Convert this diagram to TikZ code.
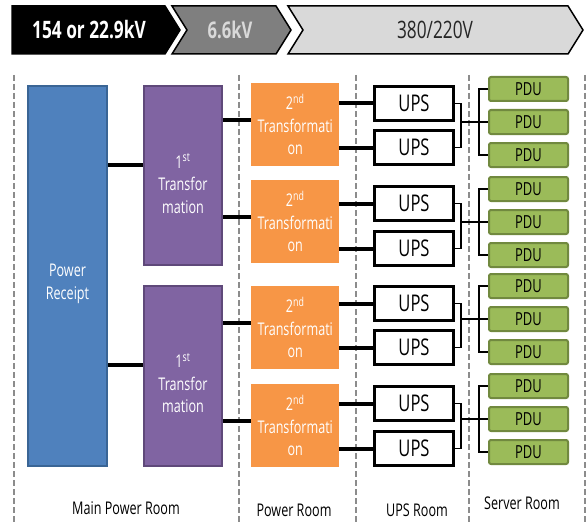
\documentclass[tikz,border=0pt]{standalone}
\usepackage{fontspec}
\setmainfont{Open Sans}[FakeStretch=0.72]
\definecolor{cBlue}{HTML}{4F81BD}
\definecolor{cBlueD}{HTML}{3A6595}
\definecolor{cPurple}{HTML}{8064A2}
\definecolor{cPurpleD}{HTML}{5F497A}
\definecolor{cOrange}{HTML}{F79646}
\definecolor{cGreen}{HTML}{9BBB59}
\definecolor{cGreenD}{HTML}{71893F}
\definecolor{cDash}{HTML}{8C8C8C}
\definecolor{cMid}{HTML}{7F7F7F}
\definecolor{cLight}{HTML}{D9D9D9}
\begin{document}
\begin{tikzpicture}[x=1pt,y=-1pt,
  box/.style={rectangle, inner sep=0pt, anchor=north west},
  pwrbox/.style={box, fill=cBlue, draw=cBlueD, line width=2pt, minimum width=79pt, minimum height=380pt},
  trbox/.style={box, fill=cPurple, draw=cPurpleD, line width=2pt, minimum width=78pt},
  orbox/.style={box, fill=cOrange, minimum width=88pt, minimum height=83pt},
  upsbox/.style={box, fill=white, draw=black, line width=3pt, minimum width=79pt, minimum height=34pt, font=\fontsize{23}{26}\selectfont},
  pdubox/.style={box, fill=cGreen, draw=cGreenD, line width=2pt, rounded corners=2pt, minimum width=79pt, minimum height=24pt, font=\fontsize{18}{20}\selectfont},
  wtext/.style={text=white, align=center, inner sep=0pt, font=\fontsize{17.5}{22.5}\selectfont},
  roomlabel/.style={inner sep=0pt, font=\fontsize{17.5}{20}\selectfont},
  bantext/.style={inner sep=0pt, font=\fontsize{22}{24}\selectfont},
  fat/.style={line width=4pt},
  thinline/.style={line width=1.2pt},
  roomsep/.style={draw=cDash, line width=1.8pt, dash pattern=on 6pt off 3pt},
  chev/.style={draw=black, line width=1.5pt, line join=miter}
]
\useasboundingbox (0,0) rectangle (588,524);

% banner
\draw[chev, fill=black] (12,6) -- (165,6) -- (180,30) -- (165,54) -- (12,54) -- cycle;
\draw[chev, fill=cMid] (172,6) -- (276,6) -- (291,30) -- (276,54) -- (172,54) -- (187,30) -- cycle;
\draw[chev, fill=cLight] (288,6) -- (568,6) -- (583,30) -- (568,54) -- (288,54) -- (303,30) -- cycle;
\node[bantext, text=white, font=\fontsize{24}{26}\selectfont\bfseries] (tA) at (89,30) {154 or 22.9kV};
\node[bantext, text=cLight, font=\fontsize{23}{26}\selectfont\bfseries] (tB) at (230,30) {6.6kV};
\node[bantext, text=black!85, font=\fontsize{24}{26}\selectfont] (tC) at (435,30) {380/220V};

% room separators
\foreach \x in {14,239,356,469,585}
  \draw[roomsep] (\x,75) -- (\x,524);

% power receipt
\node[pwrbox] (pr) at (27,85) {};
\node[wtext] (prt) at ([yshift=-8pt]pr.center) {Power\\Receipt};

% first transformations
\node[trbox, minimum height=179pt] (p1) at (143,85) {};
\node[trbox, minimum height=180pt] (p2) at (143,285) {};
\node[wtext] (p1t) at ([yshift=-8pt]p1.center) {1\textsuperscript{st}\\Transfor\\mation};
\node[wtext] (p2t) at ([yshift=-7pt]p2.center) {1\textsuperscript{st}\\Transfor\\mation};
\draw[fat] ([yshift=11pt]p1.west -| pr.east) -- ([yshift=11pt]p1.west);
\draw[fat] ([yshift=11pt]p2.west -| pr.east) -- ([yshift=11pt]p2.west);

% groups
\foreach \g/\ot/\ua/\ub/\pa/\pp in {1/83/85/129/76/1, 2/180/185/230/176/1, 3/286/285/329/273/2, 4/384/385/430/373/2}{
  \node[orbox] (o\g) at (251,\ot) {};
  \node[wtext] (ot\g) at (o\g.center) {2\textsuperscript{nd}\\Transformati\\on};
  \draw[fat] ([yshift=5pt]o\g.west -| p\pp.east) -- ([yshift=5pt]o\g.west);
  \node[upsbox] (u\g a) at (373,\ua) {UPS};
  \node[upsbox] (u\g b) at (373,\ub) {UPS};
  \draw[fat] (u\g a.west -| o\g.east) -- (u\g a.west);
  \draw[fat] (u\g b.west -| o\g.east) -- (u\g b.west);
  \node[pdubox] (d\g a) at (488,\pa) {PDU};
  \node[pdubox] (d\g b) at (488,\pa+33) {PDU};
  \node[pdubox] (d\g c) at (488,\pa+66) {PDU};
  \coordinate (bx\g) at ([xshift=6pt]u\g a.east);
  \draw[thinline] (u\g a.east) -- (bx\g) |- (u\g b.east);
  \draw[thinline] (d\g b.west -| bx\g) -- (d\g b.west);
  \draw[thinline] (d\g a.west) -- ++(-9,0) |- (d\g c.west);
}

% room labels
\node[roomlabel] (l1) at (126,508) {Main Power Room};
\node[roomlabel] (l2) at (294,510) {Power Room};
\node[roomlabel] (l3) at (417,510) {UPS Room};
\node[roomlabel] (l4) at (522,503) {Server Room};
\end{tikzpicture}
\end{document}
